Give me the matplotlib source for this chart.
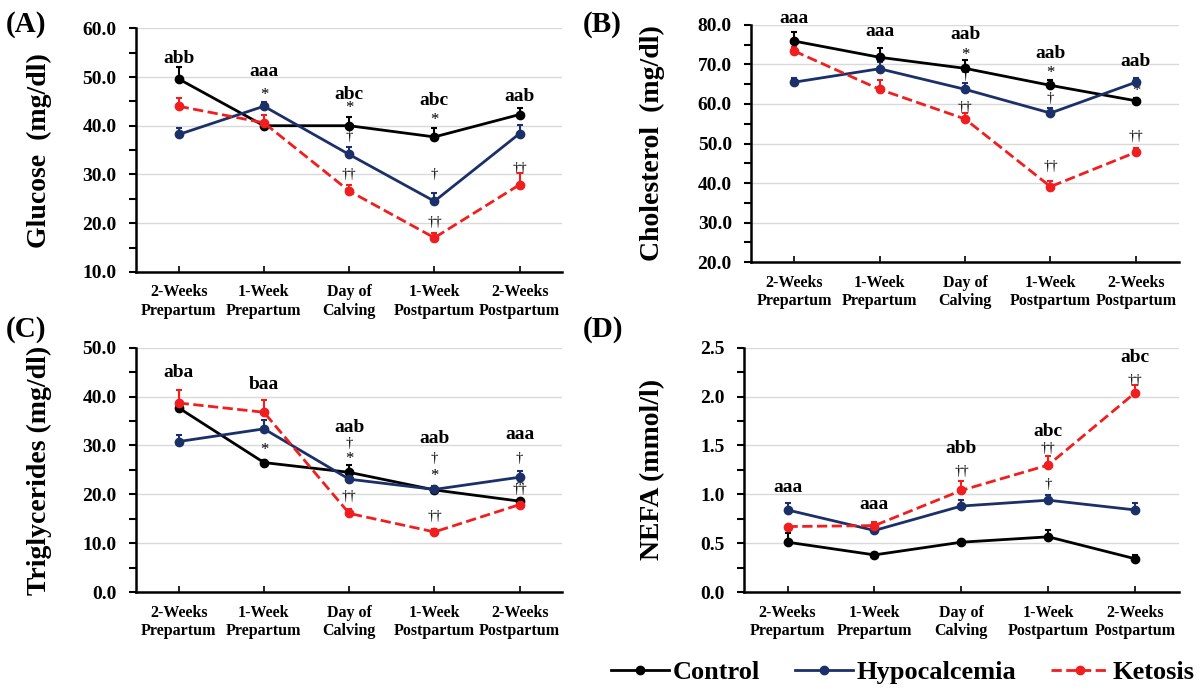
import matplotlib
matplotlib.use("Agg")
import matplotlib.pyplot as plt
from matplotlib.ticker import MultipleLocator
import numpy as np

plt.rcParams.update({
    "font.family": ["Liberation Serif", "DejaVu Serif"],
    "font.weight": "bold",
    "axes.labelweight": "bold",
})

CATS = ["2-Weeks\nPrepartum", "1-Week\nPrepartum", "Day of\nCalving",
        "1-Week\nPostpartum", "2-Weeks\nPostpartum"]
GROUPS = ["Control", "Hypocalcemia", "Ketosis"]

# ── Data (mean, upper SE) ──────────────────────────────────────────────────
glu_control = [49.6, 40.0, 40.0, 37.7, 42.3]
glu_control_err = [2.5, 0.5, 1.8, 1.8, 1.3]
glu_hypo = [38.2, 44.0, 34.1, 24.5, 38.4]
glu_hypo_err = [1.3, 0.9, 1.6, 1.7, 1.7]
glu_keto = [44.0, 40.6, 26.6, 17.0, 27.9]
glu_keto_err = [1.6, 1.6, 1.2, 0.9, 2.4]

chol_control = [75.9, 71.8, 69.0, 64.7, 60.8]
chol_control_err = [2.4, 2.3, 2.2, 1.4, 0.8]
chol_hypo = [65.5, 68.9, 63.7, 57.7, 65.5]
chol_hypo_err = [1.0, 1.8, 1.6, 1.2, 1.0]
chol_keto = [73.4, 63.7, 56.2, 39.1, 47.8]
chol_keto_err = [1.1, 2.4, 1.5, 1.3, 1.0]

tg_control = [37.7, 26.5, 24.5, 20.9, 18.6]
tg_control_err = [0.5, 0.5, 1.5, 0.5, 0.5]
tg_hypo = [30.8, 33.4, 23.1, 21.0, 23.5]
tg_hypo_err = [1.4, 1.9, 0.9, 0.8, 1.2]
tg_keto = [38.7, 36.8, 16.1, 12.3, 17.9]
tg_keto_err = [2.7, 2.6, 0.8, 0.7, 0.8]

nefa_control = [0.51, 0.38, 0.51, 0.565, 0.34]
nefa_control_err = [0.09, 0.02, 0.02, 0.07, 0.04]
nefa_hypo = [0.84, 0.63, 0.88, 0.94, 0.84]
nefa_hypo_err = [0.07, 0.02, 0.06, 0.05, 0.07]
nefa_keto = [0.67, 0.68, 1.04, 1.30, 2.04]
nefa_keto_err = [0.0, 0.04, 0.10, 0.09, 0.08]

# group letters and their heights
glu_letters = ["abb", "aaa", "abc", "abc", "aab"]
glu_letters_y = [53.8, 51.2, 46.5, 45.1, 46.0]
chol_letters = ["aaa", "aaa", "aab", "aab", "aab"]
chol_letters_y = [81.7, 78.3, 77.5, 72.8, 70.7]
tg_letters = ["aba", "baa", "aab", "aab", "aaa"]
tg_letters_y = [45.0, 42.5, 33.6, 31.4, 32.2]
nefa_letters = ["aaa", "aaa", "abb", "abc", "abc"]
nefa_letters_y = [1.07, 0.90, 1.47, 1.64, 2.40]

# significance marks: (time point, symbol, height)
glu_marks = [(1, "*", 46.3), (2, "*", 43.6), (2, "†", 37.7), (2, "††", 29.9),
             (3, "*", 41.2), (3, "†", 29.9), (3, "††", 20.1), (4, "††", 31.2)]
chol_marks = [(2, "*", 72.4), (2, "†", 67.1), (2, "††", 59.2), (3, "*", 67.8),
              (3, "†", 61.5), (3, "††", 44.2), (4, "*", 63.2), (4, "††", 51.8)]
tg_marks = [(1, "*", 29.1), (2, "†", 30.3), (2, "*", 27.2), (2, "††", 19.5),
            (3, "†", 27.3), (3, "*", 23.8), (3, "††", 15.4), (4, "†", 27.4),
            (4, "††", 20.9), (4, "*", 21.6)]
nefa_marks = [(2, "††", 1.23), (3, "††", 1.47), (3, "†", 1.10), (4, "††", 2.17)]

COLORS = ["#000000", "#1B3068", "#F01E1E"]
STYLES = ["-", "-", "--"]

# ── Figure ─────────────────────────────────────────────────────────────────
fig = plt.figure(figsize=(12.04, 6.9), dpi=100)

panels = [
    dict(rect=[0.113, 0.606, 0.354, 0.353], tag="(A)", tagpos=(0.005, 0.965),
         ylabel="Glucose  (mg/dl)", ylab_x=0.033, ylim=(10, 60), major=10, minor=5, fmt="{:.1f}",
         series=[(glu_control, glu_control_err), (glu_hypo, glu_hypo_err), (glu_keto, glu_keto_err)],
         letters=glu_letters, letters_y=glu_letters_y, marks=glu_marks),
    dict(rect=[0.624, 0.620, 0.355, 0.344], tag="(B)", tagpos=(0.484, 0.965),
         ylabel="Cholesterol  (mg/dl)", ylab_x=0.542, ylim=(20, 80), major=10, minor=5, fmt="{:.1f}",
         series=[(chol_control, chol_control_err), (chol_hypo, chol_hypo_err), (chol_keto, chol_keto_err)],
         letters=chol_letters, letters_y=chol_letters_y, marks=chol_marks),
    dict(rect=[0.113, 0.142, 0.354, 0.354], tag="(C)", tagpos=(0.005, 0.522),
         ylabel="Triglycerides (mg/dl)", ylab_x=0.033, ylim=(0, 50), major=10, minor=5, fmt="{:.1f}",
         series=[(tg_control, tg_control_err), (tg_hypo, tg_hypo_err), (tg_keto, tg_keto_err)],
         letters=tg_letters, letters_y=tg_letters_y, marks=tg_marks),
    dict(rect=[0.618, 0.142, 0.361, 0.354], tag="(D)", tagpos=(0.484, 0.522),
         ylabel="NEFA (mmol/l)", ylab_x=0.542, ylim=(0, 2.5), major=0.5, minor=0.25, fmt="{:.1f}",
         series=[(nefa_control, nefa_control_err), (nefa_hypo, nefa_hypo_err), (nefa_keto, nefa_keto_err)],
         letters=nefa_letters, letters_y=nefa_letters_y, marks=nefa_marks),
]

x = np.arange(len(CATS))
handles = []
for p in panels:
    ax = fig.add_axes(p["rect"])
    for ((vals, err), col, ls, name) in zip(p["series"], COLORS, STYLES, GROUPS):
        ax.errorbar(x, vals, yerr=[np.zeros(len(err)), err], fmt="none",
                    ecolor=col, elinewidth=1.5, capsize=2.5, capthick=1.5, zorder=3)
        ln, = ax.plot(x, vals, color=col, linestyle=ls, linewidth=2,
                      marker="o", markersize=6, label=name, zorder=4)
        if p["tag"] == "(A)":
            handles.append(ln)

    for i, (t, yy) in enumerate(zip(p["letters"], p["letters_y"])):
        ax.text(i, yy, t, ha="center", va="center", fontsize=14,
                fontweight="bold", clip_on=False)
    for (i, s, yy) in p["marks"]:
        ax.text(i, yy, s, ha="center", va="center",
                fontsize=12 if s == "*" else 10.5, fontweight="normal", clip_on=False)

    ax.set_xlim(-0.5, 4.5)
    ax.set_ylim(*p["ylim"])
    ax.yaxis.set_major_locator(MultipleLocator(p["major"]))
    ax.yaxis.set_minor_locator(MultipleLocator(p["minor"]))
    ticks = np.arange(p["ylim"][0], p["ylim"][1] + p["major"] / 2, p["major"])
    ax.set_yticks(ticks)
    ax.set_yticklabels([p["fmt"].format(t) for t in ticks], fontsize=14, fontweight="bold")
    ax.set_xticks(x)
    ax.set_xticklabels(CATS, fontsize=11.5, fontweight="bold")
    ax.tick_params(axis="x", direction="in", length=4, width=1.2, pad=9)
    ax.tick_params(axis="y", which="both", direction="out", length=5, width=1.5, pad=9)
    ax.grid(axis="y", color="#D9D9D9", linewidth=1)
    ax.set_axisbelow(True)
    for side in ["top", "right"]:
        ax.spines[side].set_visible(False)
    for side in ["left", "bottom"]:
        ax.spines[side].set_linewidth(1.8)

    fig.text(p["ylab_x"], p["rect"][1] + p["rect"][3] / 2, p["ylabel"], rotation=90,
             ha="center", va="center", fontsize=20, fontweight="bold")
    fig.text(p["tagpos"][0], p["tagpos"][1], p["tag"], ha="left", va="center",
             fontsize=21, fontweight="bold")

fig.legend(handles=handles, labels=GROUPS, loc="center", bbox_to_anchor=(0.75, 0.026),
           ncol=3, frameon=False, handlelength=2.2, columnspacing=1.3, handletextpad=0.15,
           prop={"size": 19, "weight": "bold"})

plt.savefig("out.png", dpi=100)
